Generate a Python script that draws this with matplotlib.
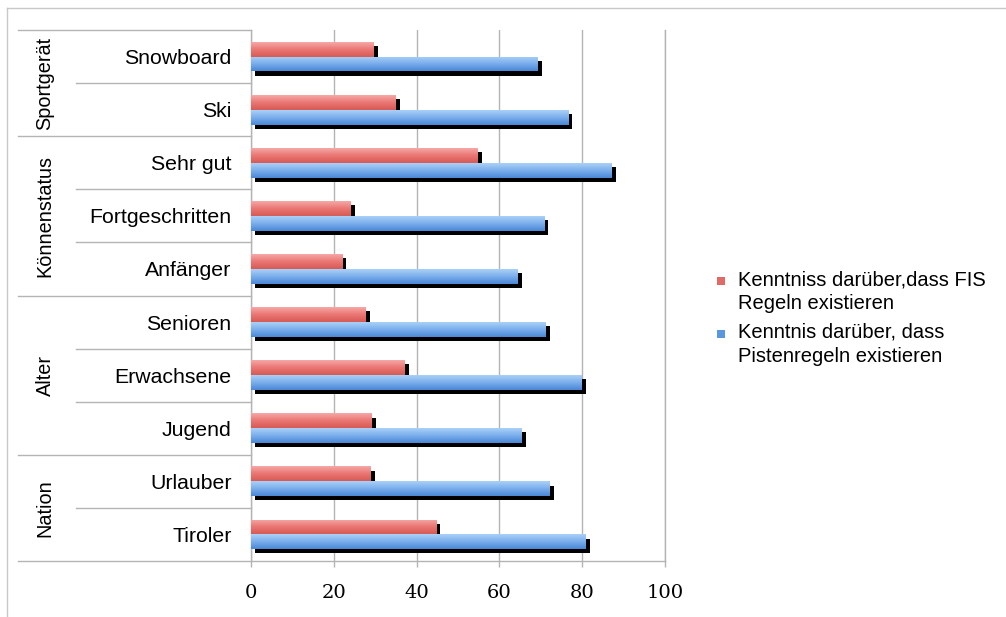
import numpy as np
import matplotlib
matplotlib.use('Agg')
import matplotlib.pyplot as plt
import matplotlib.patheffects as pe
from matplotlib.colors import LinearSegmentedColormap
from matplotlib.lines import Line2D
from matplotlib.patches import Rectangle

# data
categories = ['Snowboard', 'Ski', 'Sehr gut', 'Fortgeschritten', 'Anfänger',
              'Senioren', 'Erwachsene', 'Jugend', 'Urlauber', 'Tiroler']
fis_values = [29.7, 34.9, 54.7, 24.0, 22.0, 27.7, 37.1, 29.2, 28.9, 44.7]
pisten_values = [69.2, 76.6, 87.1, 70.8, 64.4, 71.2, 79.8, 65.3, 72.2, 80.8]
groups = ['Sportgerät', 'Könnenstatus', 'Alter', 'Nation']
group_sizes = [2, 3, 3, 2]
x_ticks = [0, 20, 40, 60, 80, 100]
legend_labels = ['Kenntniss darüber,dass FIS\nRegeln existieren',
                 'Kenntnis darüber, dass\nPistenregeln existieren']

plt.rcParams['font.family'] = ['Liberation Sans', 'DejaVu Sans']

fig = plt.figure(figsize=(10.06, 6.17), dpi=100)
ax = fig.add_axes([251 / 1006, 1 - 561 / 617, 414 / 1006, 531 / 617])

n = len(categories)
y = np.arange(n)
bh = 0.28
off = 0.14
grid_col = '#b4b4b4'

red_cmap = LinearSegmentedColormap.from_list('r', ['#f6a8a6', '#ea7672', '#d65a55'])
blue_cmap = LinearSegmentedColormap.from_list('b', ['#aad0f8', '#7aaeec', '#4b87d6'])
grad = np.linspace(0, 1, 64).reshape(-1, 1)

shadow = [pe.SimplePatchShadow(offset=(3, -3), shadow_rgbFace='black', alpha=1.0), pe.Normal()]

def draw_series(vals, ypos, cmap, z):
    bars = ax.barh(ypos, vals, height=bh, color=cmap(0.5), zorder=z, linewidth=0)
    for b in bars:
        b.set_path_effects(shadow)
        x0, y0 = b.get_x(), b.get_y()
        w, h = b.get_width(), b.get_height()
        im = ax.imshow(grad, cmap=cmap, extent=(x0, x0 + w, y0 + h, y0),
                       aspect='auto', zorder=z + 0.05, interpolation='bilinear')
        im.set_clip_path(b)
    return bars

draw_series(fis_values, y - off, red_cmap, 3)
draw_series(pisten_values, y + off, blue_cmap, 3.2)

ax.set_xlim(0, 100)
ax.set_ylim(n - 0.5, -0.5)
ax.set_xticks(x_ticks)
ax.set_xticklabels([str(t) for t in x_ticks], family='DejaVu Serif', fontsize=14)
ax.tick_params(axis='x', length=4.5, color=grid_col, pad=12, width=1)
ax.grid(axis='x', color=grid_col, linewidth=1, zorder=0)
ax.set_axisbelow(True)

ax.set_yticks(y)
ax.set_yticklabels(categories, fontsize=15.3)
ax.tick_params(axis='y', length=0, pad=14)

ax.spines['top'].set_visible(False)
for s in ['left', 'right', 'bottom']:
    ax.spines[s].set_color(grid_col)
    ax.spines[s].set_linewidth(1)

# multi-level category axis
tr = ax.get_yaxis_transform()
x_group = (18 - 251) / 414
x_inner = (76 - 251) / 414
x_glabel = (45 - 251) / 414
start = 0
ax.add_line(Line2D([x_group, 0], [-0.5, -0.5], transform=tr, color=grid_col, lw=1, clip_on=False))
for g, size in zip(groups, group_sizes):
    for k in range(1, size):
        yy = start + k - 0.5
        ax.add_line(Line2D([x_inner, 0], [yy, yy], transform=tr, color=grid_col, lw=1, clip_on=False))
    end = start + size - 0.5
    ax.add_line(Line2D([x_group, 0], [end, end], transform=tr, color=grid_col, lw=1, clip_on=False))
    ax.text(x_glabel, start + (size - 1) / 2, g, transform=tr, rotation=90,
            ha='center', va='center', fontsize=14.3)
    start += size

# outer frame
fig.add_artist(Line2D([7 / 1006, 7 / 1006], [0, 1 - 8 / 617], color='#c8c8c8', lw=1))
fig.add_artist(Line2D([7 / 1006, 1], [1 - 8 / 617, 1 - 8 / 617], color='#c8c8c8', lw=1))

# legend
leg_cols = ['#e06a66', '#5b97de']
leg_y = [281, 334]
for lab, col, ly in zip(legend_labels, leg_cols, leg_y):
    fig.add_artist(Rectangle((717 / 1006, 1 - (ly + 4) / 617), 8 / 1006, 8 / 617,
                             facecolor=col, edgecolor='none'))
    fig.text(738 / 1006, 1 - (ly - 11) / 617, lab, fontsize=14.5, va='top', ha='left',
             linespacing=1.3)

fig.savefig('out.png', dpi=100)
